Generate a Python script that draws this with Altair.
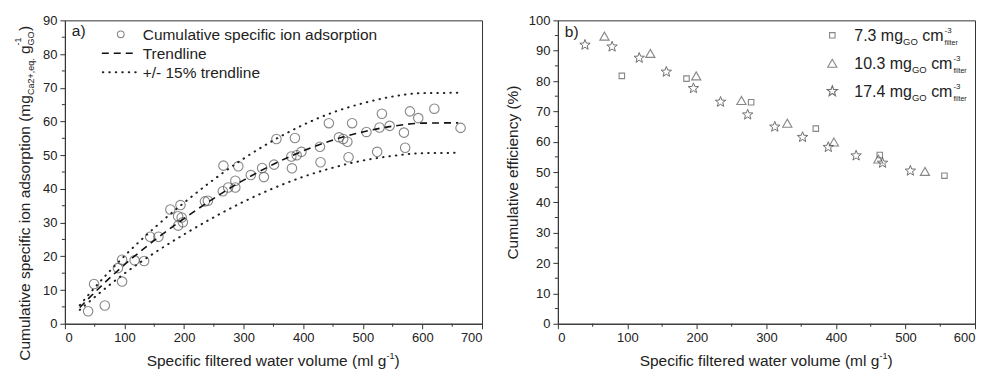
import altair as alt
import pandas as pd

FONT = "Liberation Sans"
TXT = "#222222"
STAR = ("M0,-1L0.247,-0.34L0.951,-0.309L0.4,0.13L0.588,0.809L0,0.42L-0.588,0.809"
        "L-0.4,0.13L-0.951,-0.309L-0.247,-0.34Z")

# ---------------- Panel a) data ----------------
ads_x = [39, 49, 67, 89, 96, 96, 117, 133, 143, 157, 177, 194, 190, 196, 190, 198, 235, 240, 266, 265,
         274, 286, 286, 291, 312, 331, 334, 351, 355, 381, 380, 386, 389, 397, 428, 429, 443, 460, 467, 474,
         476, 482, 506, 524, 528, 532, 545, 569, 571, 579, 593, 620, 664]
ads_y = [3.7, 11.8, 5.4, 16.5, 19, 12.5, 18.8, 18.6, 25.8, 25.8, 33.9, 35.2, 31.9, 31.5, 29.1, 30.1, 36.3, 36.5, 46.9, 39.3,
         40.4, 42.4, 40.4, 46.7, 44.1, 46.2, 43.5, 47.2, 54.8, 46.1, 49.6, 55.1, 50, 51, 52.5, 47.9, 59.5, 55.3, 54.8, 54,
         49.4, 59.5, 56.9, 51, 58.2, 62.3, 58.7, 56.7, 52.2, 63, 61, 63.8, 58.1]

trend_x = [25, 50, 100, 150, 200, 250, 300, 350, 400, 450, 500, 550, 600, 660]
trend_y = [4.8, 9.3, 17.5, 24.7, 31.2, 37.2, 42.6, 47.3, 51.3, 54.5, 56.9, 58.6, 59.5, 59.6]
upper_y = [5.5, 10.7, 20.1, 28.4, 35.9, 42.8, 49.0, 54.4, 59.0, 62.7, 65.4, 67.4, 68.4, 68.5]
lower_y = [4.1, 7.9, 14.9, 21.0, 26.5, 31.6, 36.2, 40.2, 43.6, 46.3, 48.4, 49.8, 50.6, 50.7]

a_xticks = [0, 100, 200, 300, 400, 500, 600, 700]
a_xminor = [50, 150, 250, 350, 450, 550, 650]
a_yticks = [0, 10, 20, 30, 40, 50, 60, 70, 80, 90]
a_yminor = [5, 15, 25, 35, 45, 55, 65, 75, 85]

# ---------------- Panel b) data ----------------
sq_x = [92, 185, 278, 371, 463, 556]
sq_y = [81.7, 80.8, 73.0, 64.3, 55.6, 48.8]
tri_x = [67, 133, 199, 264, 330, 397, 461, 528]
tri_y = [94.8, 89.1, 81.7, 73.6, 66.1, 59.9, 54.3, 50.2]
star_x = [39, 78, 117, 156, 195, 234, 273, 312, 352, 389, 429, 467, 507]
star_y = [91.9, 91.3, 87.6, 83.0, 77.6, 73.1, 68.9, 64.9, 61.5, 58.2, 55.4, 53.0, 50.4]

b_xticks = [0, 100, 200, 300, 400, 500, 600]
b_xminor = [50, 150, 250, 350, 450, 550]
b_yticks = [0, 10, 20, 30, 40, 50, 60, 70, 80, 90, 100]
b_yminor = [5, 15, 25, 35, 45, 55, 65, 75, 85, 95]

legend_b = ["7.3", "10.3", "17.4"]

W, H = 418, 304


def one():
    return pd.DataFrame({"a": [0]})


def txt(s, x, y, size, angle=0, align="left", color=TXT):
    return alt.Chart(pd.DataFrame({"t": [s]})).mark_text(
        fontSize=size, font=FONT, align=align, baseline="alphabetic",
        angle=angle, color=color
    ).encode(x=alt.value(x), y=alt.value(y), text="t:N")


def xtitle():
    return [
        txt("Specific filtered water volume (ml g", 82, 346, 15.5),
        txt("-1", 322.3, 339, 9),
        txt(")", 330.3, 346, 15.5),
    ]


def xenc(dom, ticks, field="x"):
    ax = alt.Axis(values=ticks, title=None, grid=False)
    return alt.X(f"{field}:Q", scale=alt.Scale(domain=dom, nice=False, zero=False), axis=ax)


def yenc(dom, ticks, title=None, field="y"):
    if title:
        ax = alt.Axis(values=ticks, title=title, grid=False, titleFont=FONT,
                      titleFontSize=15.5, titleFontWeight="normal", titleColor=TXT, titlePadding=8)
    else:
        ax = alt.Axis(values=ticks, title=None, grid=False)
    return alt.Y(f"{field}:Q", scale=alt.Scale(domain=dom, nice=False, zero=False), axis=ax)


def minor_layers(xs, ys, xdom, ydom, xt, yt, ytitle=None):
    mx = alt.Chart(pd.DataFrame({"x": xs})).mark_rule(color="#333", strokeWidth=1).encode(
        x=xenc(xdom, xt), y=alt.value(H), y2=alt.value(H + 3))
    my = alt.Chart(pd.DataFrame({"y": ys})).mark_rule(color="#333", strokeWidth=1).encode(
        y=yenc(ydom, yt, ytitle), x=alt.value(-3), x2=alt.value(0))
    return [mx, my]


# ---------------- Panel a) ----------------
AX, AY = [0, 700], [0, 90]
df_ads = pd.DataFrame({"x": ads_x, "y": ads_y})
df_tr = pd.DataFrame({"x": trend_x, "y": trend_y})
df_up = pd.DataFrame({"x": trend_x, "y": upper_y})
df_lo = pd.DataFrame({"x": trend_x, "y": lower_y})

xa = lambda: xenc(AX, a_xticks)
ya = lambda: yenc(AY, a_yticks)

pts_a = alt.Chart(df_ads).mark_point(shape="circle", filled=False, size=90, stroke="#555",
                                     strokeWidth=1.1).encode(x=xa(), y=ya())
dot_style = dict(color="#222", strokeWidth=2, strokeDash=[0.5, 6], strokeCap="round",
                 interpolate="monotone")
up_a = alt.Chart(df_up).mark_line(**dot_style).encode(x=xa(), y=ya())
lo_a = alt.Chart(df_lo).mark_line(**dot_style).encode(x=xa(), y=ya())
tr_a = alt.Chart(df_tr).mark_line(color="#111", strokeWidth=1.6, strokeDash=[7, 5],
                                  interpolate="monotone").encode(x=xa(), y=ya())

leg_a = [
    alt.Chart(one()).mark_point(shape="circle", filled=False, size=45, stroke="#555",
                                strokeWidth=1.1).encode(x=alt.value(56), y=alt.value(14)),
    txt("Cumulative specific ion adsorption", 78, 19.6, 15.5),
    alt.Chart(one()).mark_rule(color="#111", strokeWidth=1.6, strokeDash=[7, 5]).encode(
        x=alt.value(37), x2=alt.value(73), y=alt.value(33)),
    txt("Trendline", 78, 38.6, 15.5),
    alt.Chart(one()).mark_rule(color="#222", strokeWidth=2, strokeDash=[0.5, 6], strokeCap="round").encode(
        x=alt.value(38), x2=alt.value(73), y=alt.value(52)),
    txt("+/- 15% trendline", 78, 57.6, 15.5),
    txt("a)", 7, 16, 15.5),
]

# rotated y title with sub/superscripts (leading spaces are collapsed in SVG, so offset instead)
ytitle_a = [
    txt("Cumulative specific ion adsorption (mg", -35, 341, 15.5, angle=270),
    txt("Ca2+,eq.", -31, 74.8, 9, angle=270),
    txt("g", -35, 33.7, 15.5, angle=270),
    txt("GO", -31, 25.1, 9, angle=270),
    txt("-1", -44, 25.1, 9, angle=270),
    txt(")", -35, 10.6, 15.5, angle=270),
]

panel_a = alt.layer(pts_a, up_a, lo_a, tr_a,
                    *minor_layers(a_xminor, a_yminor, AX, AY, a_xticks, a_yticks),
                    *leg_a, *ytitle_a, *xtitle()).properties(width=W, height=H)

# ---------------- Panel b) ----------------
BX, BY = [0, 600], [0, 100]
df_sq = pd.DataFrame({"x": sq_x, "y": sq_y})
df_tri = pd.DataFrame({"x": tri_x, "y": tri_y})
df_star = pd.DataFrame({"x": star_x, "y": star_y})
YT_B = "Cumulative efficiency (%)"
xb = lambda: xenc(BX, b_xticks)
yb = lambda: yenc(BY, b_yticks, YT_B)

sq_b = alt.Chart(df_sq).mark_point(shape="square", filled=False, size=30, stroke="#555",
                                   strokeWidth=1.1).encode(x=xb(), y=yb())
tri_b = alt.Chart(df_tri).mark_point(shape="triangle-up", filled=False, size=85, stroke="#555",
                                     strokeWidth=1.1).encode(x=xb(), y=yb())
star_b = alt.Chart(df_star).mark_point(shape=STAR, filled=False, size=120, stroke="#333",
                                       strokeWidth=1.0).encode(x=xb(), y=yb())

leg_b = [txt("b)", 7, 17, 15.5)]
shapes = [("square", 30, "#555"), ("triangle-up", 85, "#555"), (STAR, 120, "#333")]
for i, (lab, (shp, sz, col)) in enumerate(zip(legend_b, shapes)):
    by = 21 + 28 * i
    leg_b.append(alt.Chart(one()).mark_point(shape=shp, filled=False, size=sz, stroke=col,
                                             strokeWidth=1.1).encode(x=alt.value(275), y=alt.value(by - 6)))
    main = lab + " mg"
    w1 = (556 * (len(lab) - 1) + 278 + 278 + 833 + 556) * 0.016
    x0 = 297
    leg_b.append(txt(main, x0, by, 16))
    leg_b.append(txt("GO", x0 + w1, by + 4, 9.5))
    x1 = x0 + w1 + 1556 * 0.0095 + 278 * 0.016
    leg_b.append(txt("cm", x1, by, 16))
    x2 = x1 + 1333 * 0.016
    leg_b.append(txt("-3", x2 + 1, by - 8, 8))
    leg_b.append(txt("filter", x2 + 1, by + 4, 7))

panel_b = alt.layer(sq_b, tri_b, star_b,
                    *minor_layers(b_xminor, b_yminor, BX, BY, b_xticks, b_yticks, YT_B),
                    *leg_b, *xtitle()).properties(width=W, height=H)

chart = alt.hconcat(panel_a, panel_b, spacing=21).configure_view(
    stroke="#333", strokeWidth=1
).configure_axis(
    domainColor="#333", tickColor="#333", labelColor=TXT, labelFont=FONT, labelFontSize=13,
    tickSize=5, labelPadding=3, grid=False, domainWidth=1, tickWidth=1
)

chart.save("out.html", embed_options={"renderer": "svg", "actions": False})
